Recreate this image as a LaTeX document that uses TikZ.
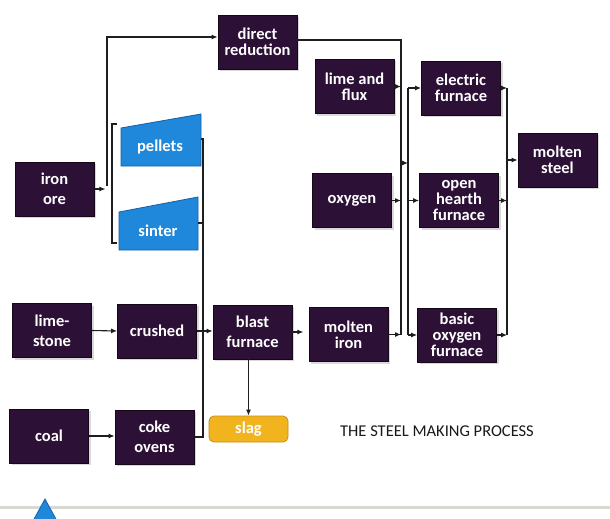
\documentclass[tikz,border=0pt]{standalone}
\usepackage{fontspec}
\setmainfont{Carlito}
\usetikzlibrary{arrows.meta,shadows}
\definecolor{boxfill}{HTML}{2C1036}
\definecolor{boxline}{HTML}{140716}
\definecolor{bluefill}{HTML}{2088DA}
\definecolor{blueline}{HTML}{1660A8}
\definecolor{slagfill}{HTML}{F2B41E}
\definecolor{slagline}{HTML}{C48D18}
\definecolor{linec}{HTML}{1E1E1E}
\definecolor{bandc}{HTML}{D9D9CF}
\begin{document}
\begin{tikzpicture}[x=1pt,y=-1pt,
  box/.style={draw=boxline, fill=boxfill, line width=0.8pt,
    minimum width=79pt, minimum height=54pt, inner sep=0pt,
    text=white, align=center, font=\fontsize{16.5}{16}\selectfont\bfseries,
    drop shadow={shadow xshift=2pt, shadow yshift=-2pt, fill=black!15, opacity=1}},
  widebox/.style={box, font=\fontsize{16.5}{20}\selectfont\bfseries},
  lbl/.style={text=white, font=\fontsize{16.5}{16}\selectfont\bfseries, inner sep=0pt},
  link/.style={line width=1.1pt, draw=linec},
  arr/.style={link, -{Latex[length=6pt,width=5pt]}},
]
\useasboundingbox (0,0) rectangle (610,519);
\fill[white] (0,0) rectangle (610,519);

% boxes
\node[box] (direct) at (257.5,42) {direct\\reduction};
\node[widebox] (ironore) at (54.5,189) {iron\\ore};
\node[widebox] (limestone) at (52,330.5) {lime-\\stone};
\node[box] (crushed) at (157,331) {crushed};
\node[box] (coal) at (49,436) {coal};
\node[widebox] (coke) at (154.5,437) {coke\\ovens};
\node[widebox] (blast) at (252.5,332) {blast\\furnace};
\node[box] (molteniron) at (348.5,334.5) {molten\\iron};
\node[box] (lime) at (354.5,86.5) {lime and\\flux};
\node[box] (oxygen) at (352,200.5) {oxygen};
\node[box] (electric) at (461,88) {electric\\furnace};
\node[box] (openhearth) at (459,200.5) {open\\hearth\\furnace};
\node[box] (bof) at (457,335) {basic\\oxygen\\furnace};
\node[box] (steel) at (557.5,160) {molten\\steel};
\node[draw=slagline, fill=slagfill, line width=0.8pt, rounded corners=5pt,
  minimum width=79pt, minimum height=26pt, inner sep=0pt,
  text=white, font=\fontsize{16.5}{16}\selectfont\bfseries] (slag) at (248.5,429) {slag};

% pellets and sinter
\fill[bluefill, draw=blueline, line width=0.8pt] (121,128) -- (201,114) -- (201,166) -- (121,166) -- cycle;
\node[lbl] (pellets) at (160,147) {pellets};
\fill[bluefill, draw=blueline, line width=0.8pt] (119,212) -- (198,197) -- (198,250) -- (119,250) -- cycle;
\node[lbl] (sinter) at (158,231) {sinter};

% coordinates for buses
\coordinate (j1) at (107,186);
\coordinate (bA) at (203,0);
\coordinate (bB) at (401,0);
\coordinate (bC) at (408,0);
\coordinate (bD) at (507,0);
\coordinate (pR) at (201,139);
\coordinate (sR) at (198,223);

% iron ore
\draw[arr] (ironore.east) -- ++(11,0);
\draw[arr] (j1) |- ([yshift=5pt]direct.west);
\draw[link] (117,124) -- (112,124) -- (112,243) -- (117,243);

% bus A
\draw[link] (coke.east) -| (pR -| bA) -- (pR);
\draw[link] (sR) -- (sR -| bA);
\draw[arr] (limestone.east) -- (crushed.west);
\draw[arr] (coal.east) -- (coal.east -| coke.west);
\draw[arr] (crushed.east) -- (crushed.east -| blast.west);
\draw[arr] (blast.south -| slag.north) -- (slag.north);
\draw[arr] (blast.east) -- ++(11,0);

% bus B
\draw[link] ([yshift=2pt]direct.east) -| (molteniron.east -| bB);
\draw[arr] (lime.east) -- (lime.east -| bB);
\draw[arr] (oxygen.east) -- (oxygen.east -| bB);
\draw[arr] (molteniron.east) -- (molteniron.east -| bB);
\coordinate (lk) at (401,163);
\draw[arr] (lk) -- (lk -| bC);

% bus C
\draw[link] (electric.west -| bC) -- (bof.west -| bC);
\draw[arr] (electric.west -| bC) -- (electric.west);
\draw[arr] (openhearth.west -| bC) -- (openhearth.west);
\draw[arr] (bof.west -| bC) -- (bof.west);

% bus D
\draw[link] (electric.east -| bD) -- (bof.east -| bD);
\draw[arr] (electric.east) -- (electric.east -| bD);
\draw[arr] (openhearth.east) -- (openhearth.east -| bD);
\draw[arr] (bof.east) -- (bof.east -| bD);
\draw[arr] (steel.west -| bD) -- (steel.west);

% caption
\node[font=\fontsize{16.5}{18}\selectfont, text=black!90] (caption) at (437,431) {THE STEEL MAKING PROCESS};

% bottom band and triangle
\fill[bandc] (0,506) rectangle (610,509);
\fill[bluefill, draw=blueline, line width=0.8pt] (33,521) -- (45,499) -- (57,521) -- cycle;
\end{tikzpicture}
\end{document}
